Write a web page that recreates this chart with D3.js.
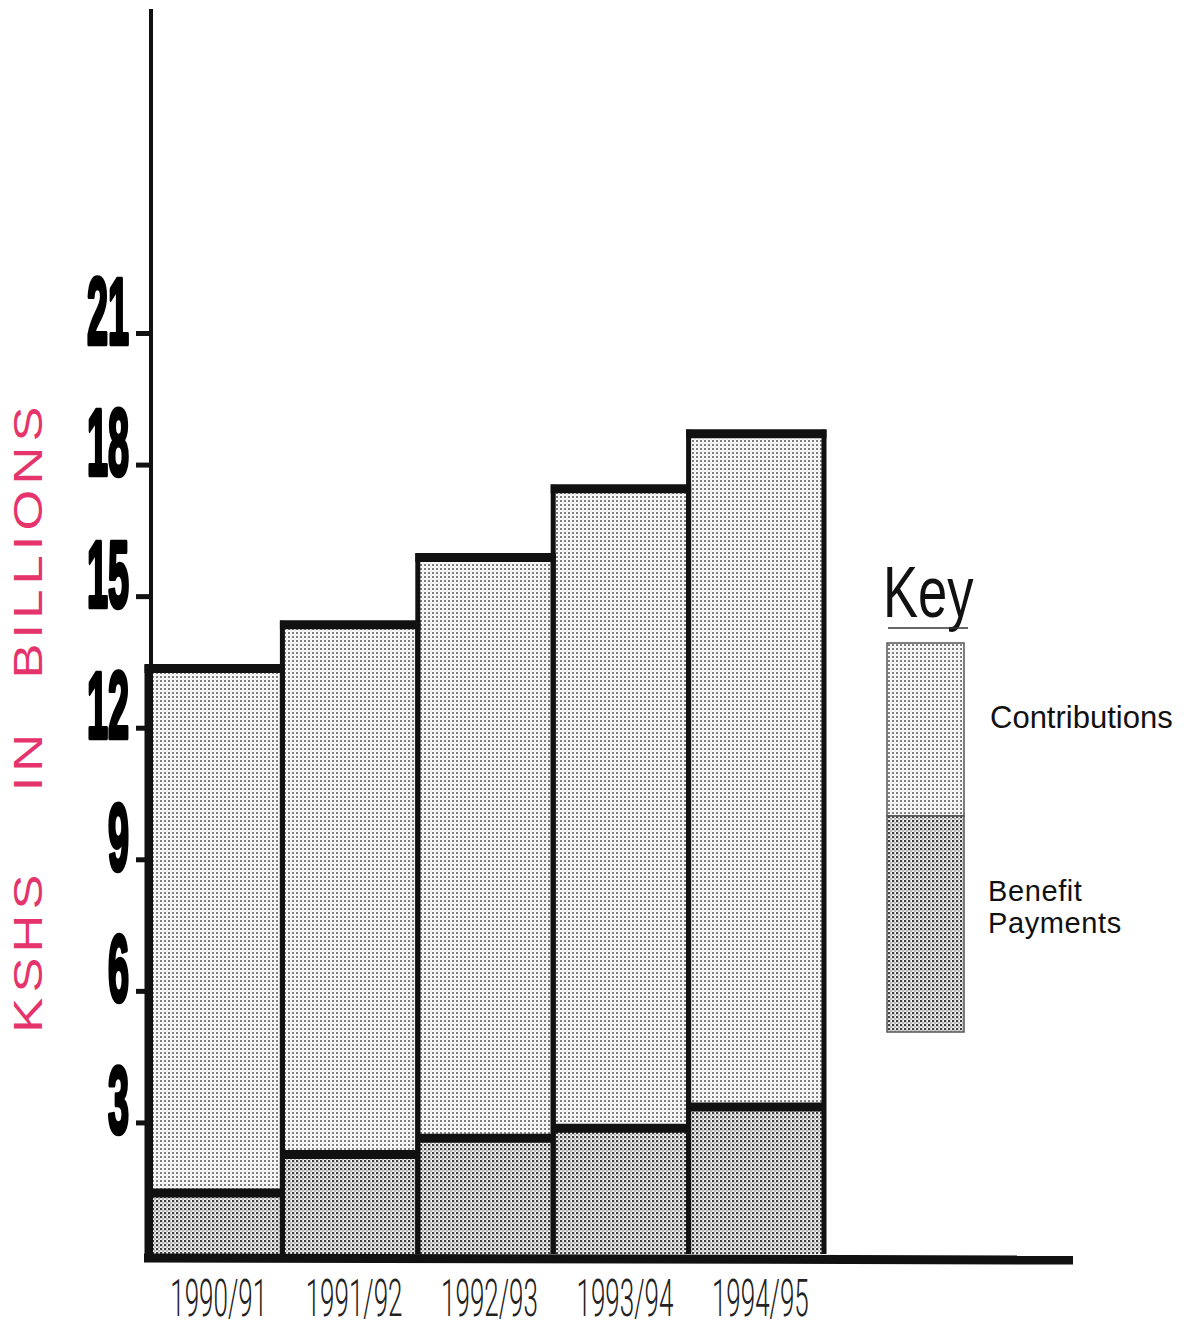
<!DOCTYPE html>
<html>
<head>
<meta charset="utf-8">
<script src="https://cdn.jsdelivr.net/npm/d3@7"></script>
<style>
  html, body { margin: 0; padding: 0; background: #fff; }
  svg { display: block; }
</style>
</head>
<body>
<script>
// Fund contributions vs. benefit payments, KSHS billions
const categories = ["1990/91", "1991/92", "1992/93", "1993/94", "1994/95"];
const contributions = [13.35, 14.35, 15.88, 17.45, 18.7];
const benefitPayments = [1.39, 2.27, 2.64, 2.87, 3.35];
const tickValues = [3, 6, 9, 12, 15, 18, 21];
const seriesNames = ["Contributions", "Benefit", "Payments"];

const W = 1195, H = 1331;
const svg = d3.select("body").append("svg").attr("width", W).attr("height", H);

// halftone dot fills
const defs = svg.append("defs");
const light = defs.append("pattern").attr("id", "dotsLight")
  .attr("patternUnits", "userSpaceOnUse").attr("width", 4).attr("height", 4);
light.append("rect").attr("width", 4).attr("height", 4).attr("fill", "#fbfbfb");
light.append("circle").attr("cx", 1).attr("cy", 1).attr("r", 0.95).attr("fill", "#4a4a4a");
light.append("circle").attr("cx", 3).attr("cy", 3).attr("r", 0.45).attr("fill", "#9a9a9a");

const dark = defs.append("pattern").attr("id", "dotsDark")
  .attr("patternUnits", "userSpaceOnUse").attr("width", 4).attr("height", 4);
dark.append("rect").attr("width", 4).attr("height", 4).attr("fill", "#f4f4f4");
dark.append("circle").attr("cx", 1).attr("cy", 1).attr("r", 1.3).attr("fill", "#3c3c3c");
dark.append("circle").attr("cx", 3).attr("cy", 3).attr("r", 0.8).attr("fill", "#6a6a6a");

const axisX = 151;
const y = d3.scaleLinear().domain([0, 21]).range([1254, 333]);
const x = d3.scaleBand().domain(categories).range([147, 824]).padding(0);

const data = categories.map((c, i) => ({ c, total: contributions[i], ben: benefitPayments[i] }));

const bars = svg.append("g");
// contributions (full bar height)
bars.selectAll("rect.contrib").data(data).join("rect").attr("class", "contrib")
  .attr("x", d => x(d.c)).attr("width", x.bandwidth())
  .attr("y", d => y(d.total)).attr("height", d => y(0) - y(d.total))
  .attr("fill", "url(#dotsLight)");
// benefit payments at the bottom
bars.selectAll("rect.ben").data(data).join("rect").attr("class", "ben")
  .attr("x", d => x(d.c)).attr("width", x.bandwidth())
  .attr("y", d => y(d.ben)).attr("height", d => y(0) - y(d.ben))
  .attr("fill", "url(#dotsDark)");

// bar sides
const sides = [];
data.forEach(d => {
  sides.push({ xv: x(d.c), top: d.total });
  sides.push({ xv: x(d.c) + x.bandwidth(), top: d.total });
});
bars.selectAll("line.side").data(sides).join("line").attr("class", "side")
  .attr("x1", d => d.xv).attr("x2", d => d.xv)
  .attr("y1", d => y(d.top) - 4).attr("y2", y(0))
  .attr("stroke", "#111").attr("stroke-width", 5);
// heavy tops of each bar and of each benefit segment
bars.selectAll("line.top").data(data).join("line").attr("class", "top")
  .attr("x1", d => x(d.c) - 2.5).attr("x2", d => x(d.c) + x.bandwidth() + 2.5)
  .attr("y1", d => y(d.total)).attr("y2", d => y(d.total))
  .attr("stroke", "#111").attr("stroke-width", 9);
bars.selectAll("line.btop").data(data).join("line").attr("class", "btop")
  .attr("x1", d => x(d.c)).attr("x2", d => x(d.c) + x.bandwidth())
  .attr("y1", d => y(d.ben)).attr("y2", d => y(d.ben))
  .attr("stroke", "#111").attr("stroke-width", 9);

// base line
svg.append("line").attr("x1", 144).attr("x2", 1073)
  .attr("y1", y(0) + 4).attr("y2", y(0) + 6)
  .attr("stroke", "#111").attr("stroke-width", 9);

// vertical axis
svg.append("line").attr("x1", axisX).attr("x2", axisX)
  .attr("y1", 9).attr("y2", y(0))
  .attr("stroke", "#111").attr("stroke-width", 4);

const yAxis = svg.append("g").attr("transform", `translate(${axisX},0)`)
  .call(d3.axisLeft(y).tickValues(tickValues).tickSize(15).tickFormat(d3.format("d")));
yAxis.select(".domain").remove();
yAxis.selectAll(".tick line").attr("stroke", "#111").attr("stroke-width", 5);
yAxis.selectAll(".tick text")
  .attr("x", 0).attr("dy", null).attr("y", 0)
  .attr("text-anchor", "end")
  .attr("transform", "translate(-22,10) scale(0.62,1.55)")
  .attr("font-family", "'Liberation Sans', Arial, sans-serif")
  .attr("font-weight", 900)
  .attr("font-size", 61)
  .attr("fill", "#000")
  .attr("stroke", "#000").attr("stroke-width", 3)
  .attr("stroke-linejoin", "round");

// category labels
const xAxis = svg.append("g").attr("transform", `translate(0,${y(0)})`)
  .call(d3.axisBottom(x).tickSize(0));
xAxis.select(".domain").remove();
xAxis.selectAll(".tick text")
  .attr("y", 0).attr("dy", null)
  .attr("text-anchor", "middle")
  .attr("transform", "translate(4,62) scale(0.5,1)")
  .attr("font-family", "Roboto, 'Liberation Sans', sans-serif")
  .attr("font-weight", 300)
  .attr("font-size", 52)
  .attr("fill", "#222");

// vertical title
const titleWords = [
  { t: "KSHS", c: 951 },
  { t: "IN", c: 760 },
  { t: "BILLIONS", c: 540 }
];
svg.append("g").selectAll("text").data(titleWords).join("text")
  .attr("transform", d => `translate(42,${d.c}) rotate(-90) scale(1.28,1)`)
  .attr("text-anchor", "middle")
  .attr("font-family", "'Liberation Sans', Arial, sans-serif")
  .attr("font-size", 41)
  .attr("letter-spacing", 4)
  .attr("fill", "#e5336c")
  .text(d => d.t);

// key
const key = svg.append("g");
key.append("text").attr("transform", "translate(883,617) scale(0.72,1)")
  .attr("font-family", "'Liberation Sans', Arial, sans-serif")
  .attr("font-size", 73).attr("fill", "#111").text("Key");
key.append("line").attr("x1", 888).attr("x2", 968).attr("y1", 628).attr("y2", 628)
  .attr("stroke", "#333").attr("stroke-width", 1.5);
const keyBox = [
  { fill: "url(#dotsLight)", y0: 643, y1: 816 },
  { fill: "url(#dotsDark)", y0: 816, y1: 1032 }
];
key.selectAll("rect").data(keyBox).join("rect")
  .attr("x", 887).attr("width", 77)
  .attr("y", d => d.y0).attr("height", d => d.y1 - d.y0)
  .attr("fill", d => d.fill).attr("stroke", "#555").attr("stroke-width", 1.5);
const keyLabels = [
  { t: seriesNames[0], x: 990, y: 728, s: 31, ls: 0 },
  { t: seriesNames[1], x: 988, y: 901, s: 29, ls: 0.6 },
  { t: seriesNames[2], x: 988, y: 933, s: 29, ls: 0.6 }
];
key.selectAll("text.lbl").data(keyLabels).join("text").attr("class", "lbl")
  .attr("x", d => d.x).attr("y", d => d.y)
  .attr("font-family", "'Liberation Sans', Arial, sans-serif")
  .attr("font-size", d => d.s).attr("letter-spacing", d => d.ls).attr("fill", "#111")
  .text(d => d.t);
</script>
</body>
</html>
